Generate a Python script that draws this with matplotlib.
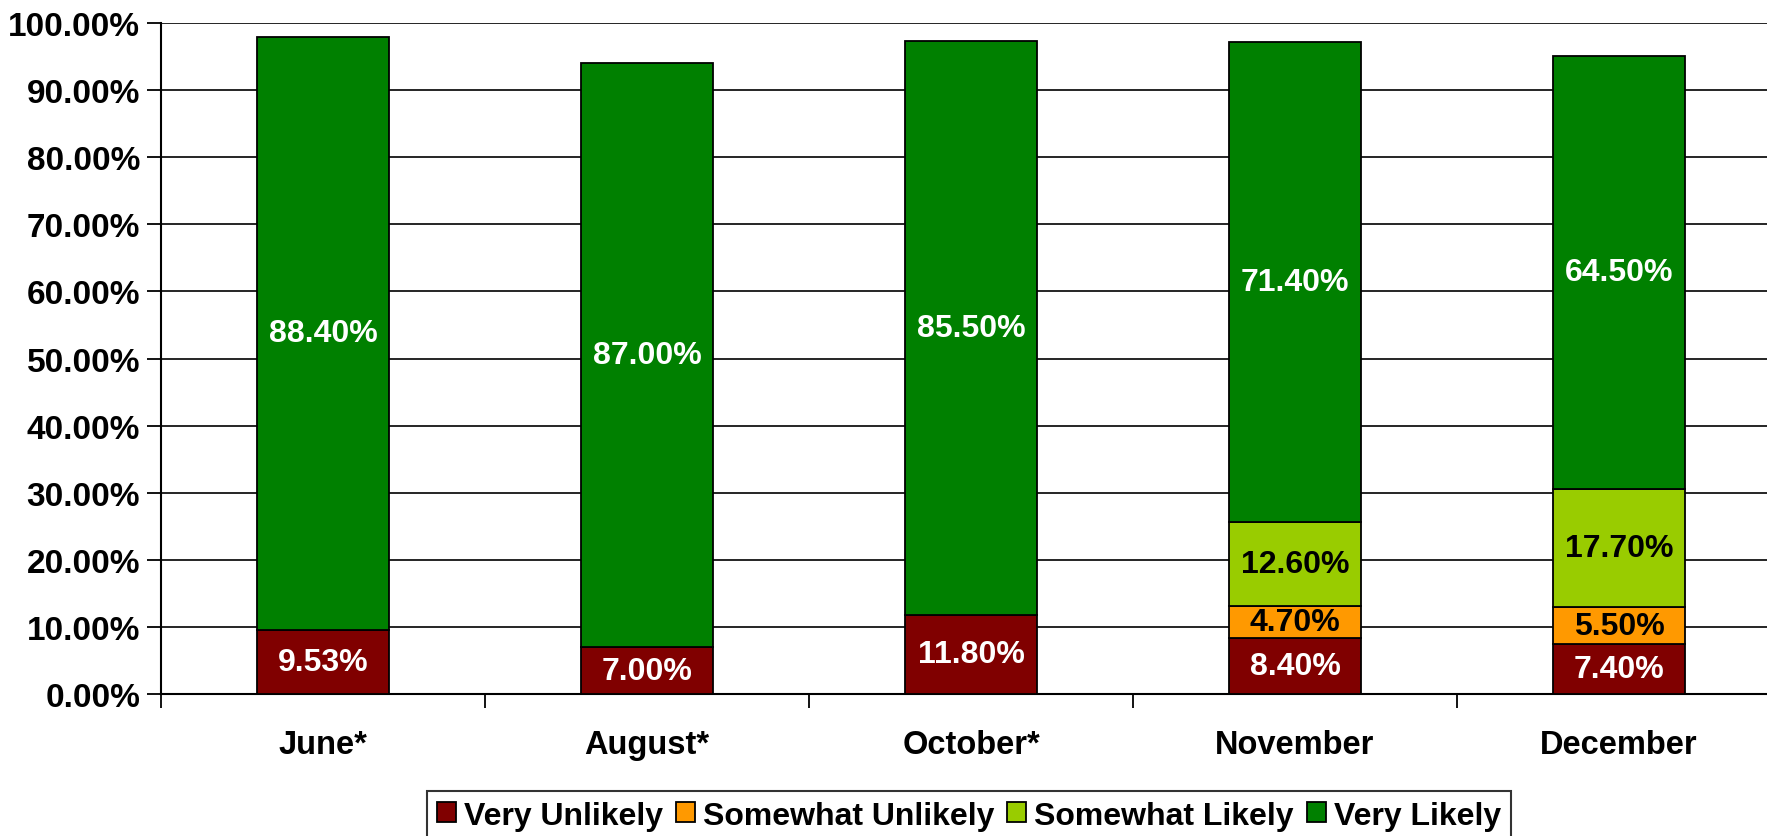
import matplotlib
matplotlib.use("Agg")
import matplotlib.pyplot as plt
import numpy as np

plt.rcParams['font.family'] = ['Liberation Sans', 'DejaVu Sans']
plt.rcParams['font.weight'] = 'bold'

months = ["June*", "August*", "October*", "November", "December"]
series_names = ["Very Unlikely", "Somewhat Unlikely", "Somewhat Likely", "Very Likely"]
very_unlikely = [9.53, 7.00, 11.80, 8.40, 7.40]
somewhat_unlikely = [0.0, 0.0, 0.0, 4.70, 5.50]
somewhat_likely = [0.0, 0.0, 0.0, 12.60, 17.70]
very_likely = [88.40, 87.00, 85.50, 71.40, 64.50]
yticks = [0, 10, 20, 30, 40, 50, 60, 70, 80, 90, 100]

series = [very_unlikely, somewhat_unlikely, somewhat_likely, very_likely]
colors = ["#800000", "#FF9900", "#99CC00", "#008000"]
text_colors = ["white", "black", "black", "white"]

fig = plt.figure(figsize=(17.67, 8.37), dpi=100)
ax = fig.add_axes([161 / 1767, 142 / 837, 1620 / 1767, 671 / 837])

x = np.arange(len(months))
bottom = np.zeros(len(months))
handles = []
for vals, col, tcol, name in zip(series, colors, text_colors, series_names):
    vals = np.array(vals)
    bars = ax.bar(x, vals, width=0.405, bottom=bottom, color=col,
                  edgecolor="black", linewidth=1.3, label=name, zorder=3)
    handles.append(bars)
    for xi, v, b in zip(x, vals, bottom):
        if v > 0:
            ax.text(xi, b + v / 2, f"{v:.2f}%", ha="center", va="center",
                    color=tcol, fontsize=23, fontweight="bold", zorder=4)
    bottom += vals

ax.set_xlim(-0.5, len(months) - 0.5)
ax.set_ylim(0, 100)
ax.set_yticks(yticks)
ax.set_yticklabels([f"{t:.2f}%" for t in yticks], fontsize=24, fontweight="bold")
ax.yaxis.grid(True, color="black", linewidth=1.2, zorder=0)
ax.set_axisbelow(True)

ax.set_xticks(x)
ax.set_xticklabels(months, fontsize=23.5, fontweight="bold")
ax.tick_params(axis="x", which="major", length=0, pad=25)
ax.set_xticks(np.arange(len(months) + 1) - 0.5, minor=True)
ax.tick_params(axis="x", which="minor", length=10, width=1.3, direction="out")
ax.tick_params(axis="y", length=10, width=1.3, direction="out", pad=5)

for side in ["top", "right"]:
    ax.spines[side].set_visible(False)
ax.spines["left"].set_linewidth(1.5)
ax.spines["bottom"].set_linewidth(1.5)

leg = fig.legend(handles=handles, labels=series_names, loc="upper center",
                 bbox_to_anchor=(969 / 1767, 45 / 837), ncol=4, fontsize=23,
                 frameon=True, fancybox=False, edgecolor="black",
                 handlelength=0.6, handleheight=0.6, handletextpad=0.25,
                 columnspacing=0.4, borderpad=0.3, borderaxespad=0)
leg.get_frame().set_linewidth(1.5)
for t in leg.get_texts():
    t.set_fontweight("bold")

fig.savefig("out.png", dpi=100)
